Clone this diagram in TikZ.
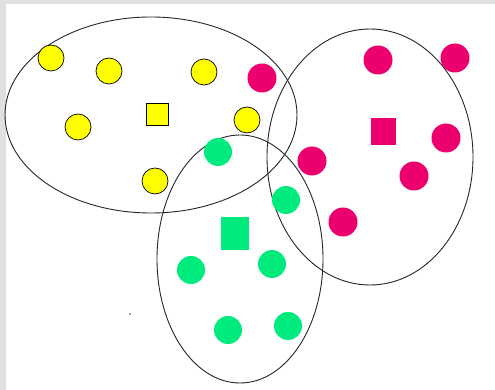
\documentclass[tikz,border=0pt]{standalone}
\usetikzlibrary{shapes.geometric}
\definecolor{ylw}{RGB}{255,255,0}
\definecolor{mag}{RGB}{235,0,110}
\definecolor{grn}{RGB}{0,235,125}
\begin{document}
\begin{tikzpicture}[x=1pt,y=-1pt,
  set/.style={draw=black!85,line width=0.9pt},
  ydot/.style={circle,fill=ylw,draw=black,line width=0.7pt,minimum size=26pt,inner sep=0pt},
  mdot/.style={circle,fill=mag,minimum size=29pt,inner sep=0pt},
  gdot/.style={circle,fill=grn,minimum size=28pt,inner sep=0pt}]
\useasboundingbox (0,0) rectangle (495,390);
\fill[black!12] (0,0) rectangle (495,390);
\fill[white] (6,4) rectangle (495,390);
% sets
\draw[set] (151,115) ellipse [x radius=146,y radius=98];
\draw[set] (370,157) ellipse [x radius=103,y radius=128];
\draw[set] (240,259) ellipse [x radius=83,y radius=124];
% yellow
\node[ydot] (y1) at (51,58) {};
\node[ydot] (y2) at (109,71) {};
\node[ydot] (y3) at (204,72) {};
\node[ydot] (y4) at (78,127) {};
\node[ydot] (y5) at (247,120) {};
\node[ydot] (y6) at (155,181) {};
\node[draw=black,line width=0.8pt,fill=ylw,minimum size=22pt,inner sep=0pt] (ys) at (157,114) {};
% magenta
\node[mdot] (m1) at (262,78) {};
\node[mdot] (m2) at (378,60) {};
\node[mdot] (m3) at (455,58) {};
\node[mdot] (m4) at (446,138) {};
\node[mdot] (m5) at (414,176) {};
\node[mdot] (m6) at (312,161) {};
\node[mdot] (m7) at (343,222) {};
\node[fill=mag,minimum width=25pt,minimum height=27pt,inner sep=0pt] (ms) at (383,132) {};
% green
\node[gdot] (g1) at (218,152) {};
\node[gdot] (g2) at (286,200) {};
\node[gdot] (g3) at (191,270) {};
\node[gdot] (g4) at (272,264) {};
\node[gdot] (g5) at (228,330) {};
\node[gdot] (g6) at (288,326) {};
\node[fill=grn,minimum width=28pt,minimum height=33pt,inner sep=0pt] (gs) at (235,233) {};
% stray dot
\fill[black!70] (130,314) circle (0.8);
\end{tikzpicture}
\end{document}
